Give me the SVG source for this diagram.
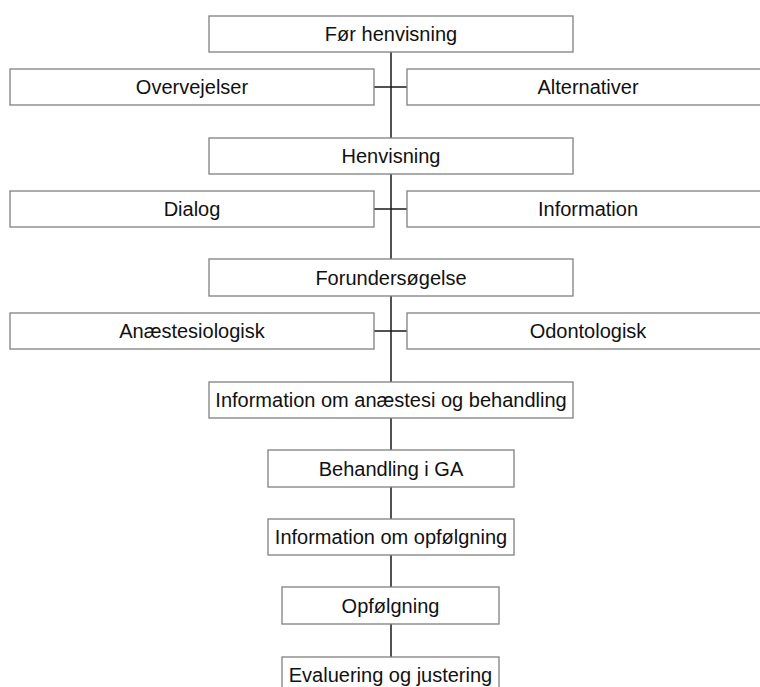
<svg xmlns="http://www.w3.org/2000/svg" width="760" height="687" viewBox="0 0 760 687">
<style>
.box{fill:#fff;stroke:#808080;stroke-width:1.3}
.t{font-family:"Liberation Sans",Arial,sans-serif;font-size:20px;fill:#111;text-anchor:middle}
.c{stroke:#1a1a1a;stroke-width:1.5;fill:none}
</style>
<rect width="760" height="687" fill="#fff"/>
<g id="connectors">
<path class="c" d="M391 52V138M391 174V259M391 296V382M391 418V450M391 487V519M391 555V587M391 624V657"/>
<path class="c" d="M374 87H407M374 209H407M374 331H407"/>
</g>
<g id="n1"><rect class="box" x="209" y="16" width="364" height="36"/><text class="t" x="391" y="41">Før henvisning</text></g>
<g id="n2"><rect class="box" x="10" y="69" width="364" height="36"/><text class="t" x="192" y="94">Overvejelser</text></g>
<g id="n3"><rect class="box" x="407" y="69" width="362" height="36"/><text class="t" x="588" y="94">Alternativer</text></g>
<g id="n4"><rect class="box" x="209" y="138" width="364" height="36"/><text class="t" x="391" y="163">Henvisning</text></g>
<g id="n5"><rect class="box" x="10" y="191" width="364" height="36"/><text class="t" x="192" y="216">Dialog</text></g>
<g id="n6"><rect class="box" x="407" y="191" width="362" height="36"/><text class="t" x="588" y="216">Information</text></g>
<g id="n7"><rect class="box" x="209" y="259" width="364" height="37"/><text class="t" x="391" y="285">Forundersøgelse</text></g>
<g id="n8"><rect class="box" x="10" y="313" width="364" height="36"/><text class="t" x="192" y="338">Anæstesiologisk</text></g>
<g id="n9"><rect class="box" x="407" y="313" width="362" height="36"/><text class="t" x="588" y="338">Odontologisk</text></g>
<g id="n10"><rect class="box" x="209" y="382" width="364" height="36"/><text class="t" x="391" y="407">Information om anæstesi og behandling</text></g>
<g id="n11"><rect class="box" x="268" y="450" width="246" height="37"/><text class="t" x="391" y="476">Behandling i GA</text></g>
<g id="n12"><rect class="box" x="268" y="519" width="246" height="36"/><text class="t" x="391" y="544">Information om opfølgning</text></g>
<g id="n13"><rect class="box" x="282" y="587" width="217" height="37"/><text class="t" x="390.5" y="613">Opfølgning</text></g>
<g id="n14"><rect class="box" x="282" y="657" width="217" height="36"/><text class="t" x="390.5" y="682">Evaluering og justering</text></g>
</svg>
